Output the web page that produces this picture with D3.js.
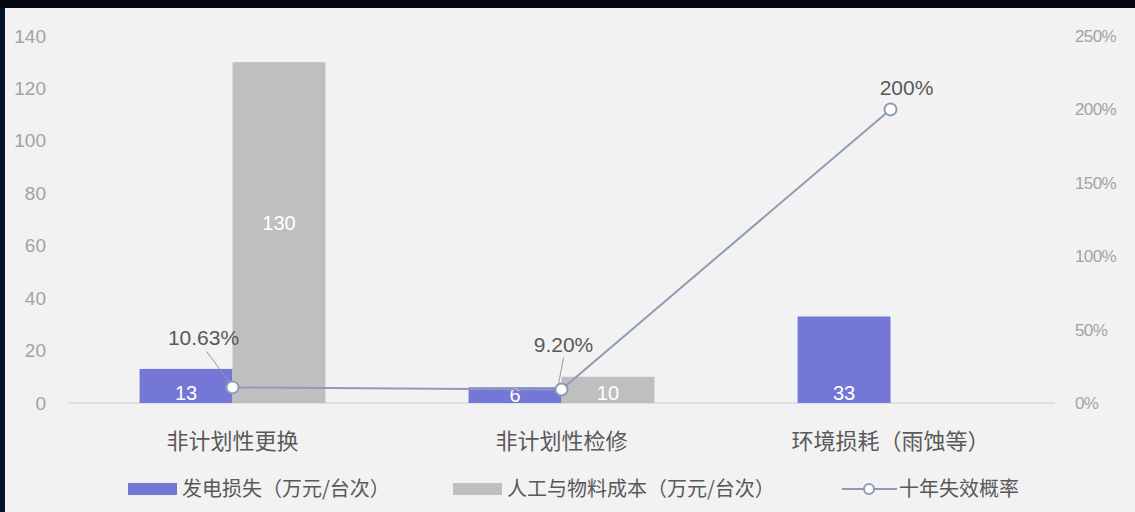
<!DOCTYPE html>
<html>
<head>
<meta charset="utf-8">
<script src="https://cdn.jsdelivr.net/npm/d3@7"></script>
<style>
  html, body { margin: 0; padding: 0; background: #04142e; overflow: hidden; }
  svg { display: block; }
</style>
</head>
<body>
<svg id="chart" width="1135" height="512"></svg>
<script>
// Categories and series
const categories = ["非计划性更换", "非计划性检修", "环境损耗（雨蚀等）"];
const seriesNames = ["发电损失（万元/台次）", "人工与物料成本（万元/台次）"];
const powerLoss = [13, 6, 33];
const laborCost = [130, 10, 0];
const failureRate = [0.1063, 0.092, 2.0];
const rateLabels = ["10.63%", "9.20%", "200%"];
const lineName = "十年失效概率";
const leftTicks = [0, 20, 40, 60, 80, 100, 120, 140];
const rightTicks = [0, 0.5, 1.0, 1.5, 2.0, 2.5];

const barColors = ["#7477d6", "#bfbfbf"];
const lineColor = "#8f9bb6";
const cjk = "'Noto Sans CJK SC', 'Noto Sans', sans-serif";
const latin = "'Liberation Sans', Arial, sans-serif";

const svg = d3.select("#chart");

// frame: dark edges and light panel
svg.append("rect").attr("x", 0).attr("y", 0).attr("width", 1135).attr("height", 512).attr("fill", "#04142e");
svg.append("rect").attr("x", 0).attr("y", 0).attr("width", 1135).attr("height", 8).attr("fill", "#05080f");
svg.append("rect").attr("x", 5).attr("y", 8).attr("width", 1130).attr("height", 504).attr("fill", "#f2f2f2");

const plotLeft = 68, plotRight = 1055, plotTop = 36, plotBottom = 403;

const x0 = d3.scaleBand().domain(categories).range([plotLeft, plotRight])
  .paddingInner(0.435).paddingOuter(0.2175);
const x1 = d3.scaleBand().domain(seriesNames).range([0, x0.bandwidth()]).padding(0);
const yL = d3.scaleLinear().domain([0, 140]).range([plotBottom, plotTop]);
const yR = d3.scaleLinear().domain([0, 2.5]).range([plotBottom, plotTop]);

// left axis
const leftAxis = svg.append("g").attr("transform", `translate(${plotLeft - 22},0)`)
  .call(d3.axisLeft(yL).tickValues(leftTicks).tickSize(0).tickPadding(0));
leftAxis.select(".domain").remove();
leftAxis.selectAll("text").attr("fill", "#a3a3a3").style("font-family", latin).style("font-size", "19px");

// right axis
const rightAxis = svg.append("g").attr("transform", `translate(${plotRight + 20},0)`)
  .call(d3.axisRight(yR).tickValues(rightTicks).tickSize(0).tickPadding(0)
    .tickFormat(d => Math.round(d * 100) + "%"));
rightAxis.select(".domain").remove();
rightAxis.selectAll("text").attr("fill", "#a3a3a3").style("font-family", latin)
  .style("font-size", "17px").style("letter-spacing", "-0.6px");

// baseline
svg.append("line").attr("x1", plotLeft).attr("x2", plotRight)
  .attr("y1", yL(0)).attr("y2", yL(0)).attr("stroke", "#d9d9d9").attr("stroke-width", 1.5);

// bars
const rows = categories.map((c, i) => ({ cat: c, vals: [powerLoss[i], laborCost[i]] }));
const groups = svg.append("g").selectAll("g").data(rows).join("g")
  .attr("transform", d => `translate(${x0(d.cat)},0)`);

groups.selectAll("rect").data(d => d.vals.map((v, k) => ({ v, k })).filter(e => e.v > 0)).join("rect")
  .attr("x", e => x1(seriesNames[e.k]))
  .attr("width", x1.bandwidth())
  .attr("y", e => yL(e.v))
  .attr("height", e => yL(0) - yL(e.v))
  .attr("fill", e => barColors[e.k]);

groups.selectAll("text").data(d => d.vals.map((v, k) => ({ v, k })).filter(e => e.v > 0)).join("text")
  .attr("x", e => x1(seriesNames[e.k]) + x1.bandwidth() / 2)
  .attr("y", e => e.v > 100 ? yL(e.v * 0.53) : Math.max(yL(e.v / 2), yL(0) - 10))
  .attr("dy", "0.36em")
  .attr("text-anchor", "middle")
  .attr("fill", "#ffffff")
  .style("font-family", latin).style("font-size", "20px")
  .text(e => e.v);

// failure-rate line
const pts = categories.map((c, i) => [x0(c) + x0.bandwidth() / 2, yR(failureRate[i])]);
svg.append("path").attr("d", d3.line()(pts)).attr("fill", "none")
  .attr("stroke", lineColor).attr("stroke-width", 2);

// leader lines for small-value labels
const leaders = [
  { i: 0, dx: -26, dy: -36 },
  { i: 1, dx: 2, dy: -32 }
];
leaders.forEach(l => {
  const [px, py] = pts[l.i];
  svg.append("line").attr("x1", px - 3).attr("y1", py - 5)
    .attr("x2", px + l.dx).attr("y2", py + l.dy)
    .attr("stroke", "#9a9a9a").attr("stroke-width", 1);
});

svg.selectAll("circle.pt").data(pts).join("circle").attr("class", "pt")
  .attr("cx", d => d[0]).attr("cy", d => d[1]).attr("r", 6)
  .attr("fill", "#ffffff").attr("stroke", lineColor).attr("stroke-width", 2);

const labelOffsets = [[-29, -42], [2, -37], [16, -14]];
svg.selectAll("text.rate").data(pts).join("text").attr("class", "rate")
  .attr("x", (d, i) => d[0] + labelOffsets[i][0])
  .attr("y", (d, i) => d[1] + labelOffsets[i][1])
  .attr("text-anchor", "middle")
  .attr("fill", "#595959")
  .style("font-family", latin).style("font-size", "21px")
  .text((d, i) => rateLabels[i]);

// category labels
svg.selectAll("text.cat").data(categories).join("text").attr("class", "cat")
  .attr("x", d => x0(d) + x0.bandwidth() / 2)
  .attr("y", 449)
  .attr("text-anchor", "middle")
  .attr("fill", "#595959")
  .style("font-family", cjk).style("font-size", "22px")
  .text(d => d);

// legend
const legY = 489;
const legend = svg.append("g");
const legItems = [
  { type: "bar", color: barColors[0], name: seriesNames[0], x: 128 },
  { type: "bar", color: barColors[1], name: seriesNames[1], x: 453 },
  { type: "line", color: lineColor, name: lineName, x: 842 }
];
legItems.forEach(it => {
  if (it.type === "bar") {
    legend.append("rect").attr("x", it.x).attr("y", legY - 6).attr("width", 49).attr("height", 12)
      .attr("fill", it.color);
  } else {
    legend.append("line").attr("x1", it.x).attr("x2", it.x + 55).attr("y1", legY).attr("y2", legY)
      .attr("stroke", it.color).attr("stroke-width", 2);
    legend.append("circle").attr("cx", it.x + 27).attr("cy", legY).attr("r", 5)
      .attr("fill", "#ffffff").attr("stroke", it.color).attr("stroke-width", 2);
  }
  legend.append("text").attr("x", it.x + (it.type === "bar" ? 54 : 57)).attr("y", legY)
    .attr("dy", "0.36em").attr("fill", "#595959")
    .style("font-family", cjk).style("font-size", "20px")
    .text(it.name);
});
</script>
</body>
</html>
